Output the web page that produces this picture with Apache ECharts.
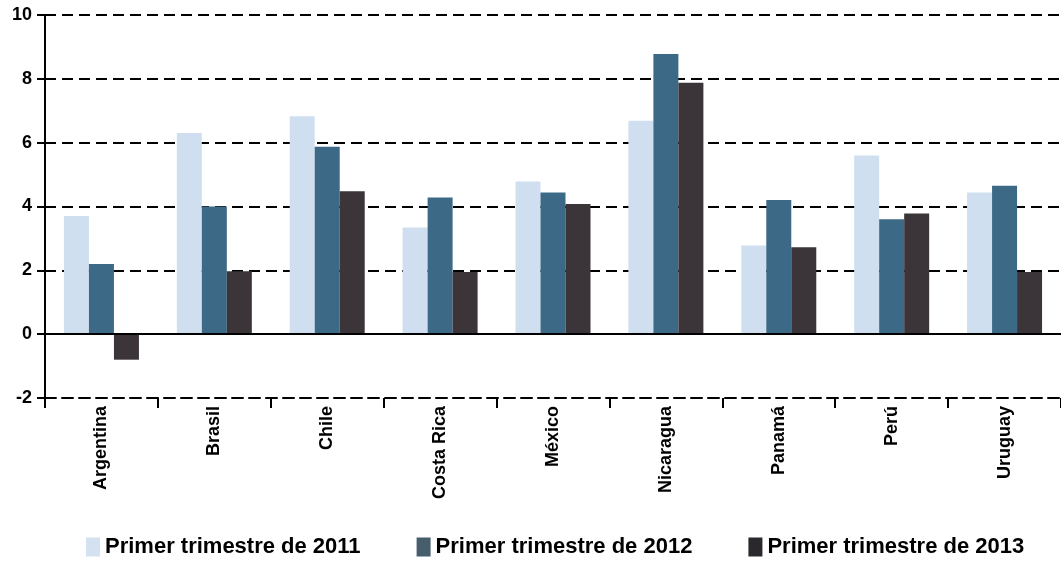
<!DOCTYPE html>
<html>
<head>
<meta charset="utf-8">
<script src="https://cdn.jsdelivr.net/npm/echarts@6/dist/echarts.min.js"></script>
<style>
html,body{margin:0;padding:0;background:#fff;}
#chart{width:1061px;height:561px;}
</style>
</head>
<body>
<div id="chart"></div>
<script>
const categories = ['Argentina', 'Brasil', 'Chile', 'Costa Rica', 'México', 'Nicaragua', 'Panamá', 'Perú', 'Uruguay'];
const seriesNames = ['Primer trimestre de 2011', 'Primer trimestre de 2012', 'Primer trimestre de 2013'];
const values2011 = [3.7, 6.3, 6.83, 3.34, 4.78, 6.69, 2.78, 5.6, 4.44];
const values2012 = [2.2, 4.0, 5.87, 4.28, 4.44, 8.78, 4.2, 3.6, 4.65];
const values2013 = [-0.8, 1.97, 4.48, 1.95, 4.08, 7.88, 2.72, 3.78, 1.95];
const yTicks = { min: -2, max: 10, interval: 2 };

const FONT = '"Liberation Sans", Arial, sans-serif';
const chart = echarts.init(document.getElementById('chart'), null, { renderer: 'canvas' });

const dashed = { color: '#000', width: 2, type: [11, 6] };

chart.setOption({
  backgroundColor: '#fff',
  animation: false,
  grid: { left: 45, right: -8, top: 15, bottom: 163, containLabel: false },
  legend: {
    left: 81,
    bottom: -2,
    itemWidth: 14,
    itemHeight: 19,
    itemGap: 56,
    icon: 'rect',
    textStyle: { fontFamily: FONT, fontWeight: 'bold', fontSize: 22, color: '#000', padding: [0, 0, 0, 0] },
    data: [
      { name: seriesNames[0], itemStyle: { color: '#d3e1f0' } },
      { name: seriesNames[1], itemStyle: { color: '#465d6c' } },
      { name: seriesNames[2], itemStyle: { color: '#2a282c' } }
    ]
  },
  xAxis: {
    type: 'category',
    data: categories,
    axisLine: { onZero: false, lineStyle: dashed },
    axisTick: { show: true, inside: false, length: 10, lineStyle: { color: '#000', width: 2 } },
    axisLabel: {
      rotate: 90,
      margin: 8,
      fontFamily: FONT,
      fontWeight: 'bold',
      fontSize: 18,
      color: '#000'
    },
    splitLine: { show: false }
  },
  yAxis: {
    type: 'value',
    min: yTicks.min,
    max: yTicks.max,
    interval: yTicks.interval,
    axisLine: { show: true, lineStyle: { color: '#000', width: 2 } },
    axisTick: { show: true, length: 8, lineStyle: { color: '#000', width: 2 } },
    axisLabel: {
      margin: 13,
      fontFamily: FONT,
      fontWeight: 'bold',
      fontSize: 18,
      color: '#000'
    },
    splitLine: { show: true, lineStyle: dashed }
  },
  series: [
    {
      name: seriesNames[0], type: 'bar', data: values2011,
      barWidth: 25, barGap: '0%',
      itemStyle: { color: '#cfdff0' },
      markLine: {
        silent: true, symbol: 'none', label: { show: false },
        lineStyle: { color: '#000', width: 2, type: 'solid' },
        data: [{ yAxis: 0 }]
      }
    },
    {
      name: seriesNames[1], type: 'bar', data: values2012,
      barWidth: 25, barGap: '0%',
      itemStyle: { color: '#3c6a86' }
    },
    {
      name: seriesNames[2], type: 'bar', data: values2013,
      barWidth: 25, barGap: '0%',
      itemStyle: { color: '#3b3539' }
    }
  ]
});
</script>
</body>
</html>
